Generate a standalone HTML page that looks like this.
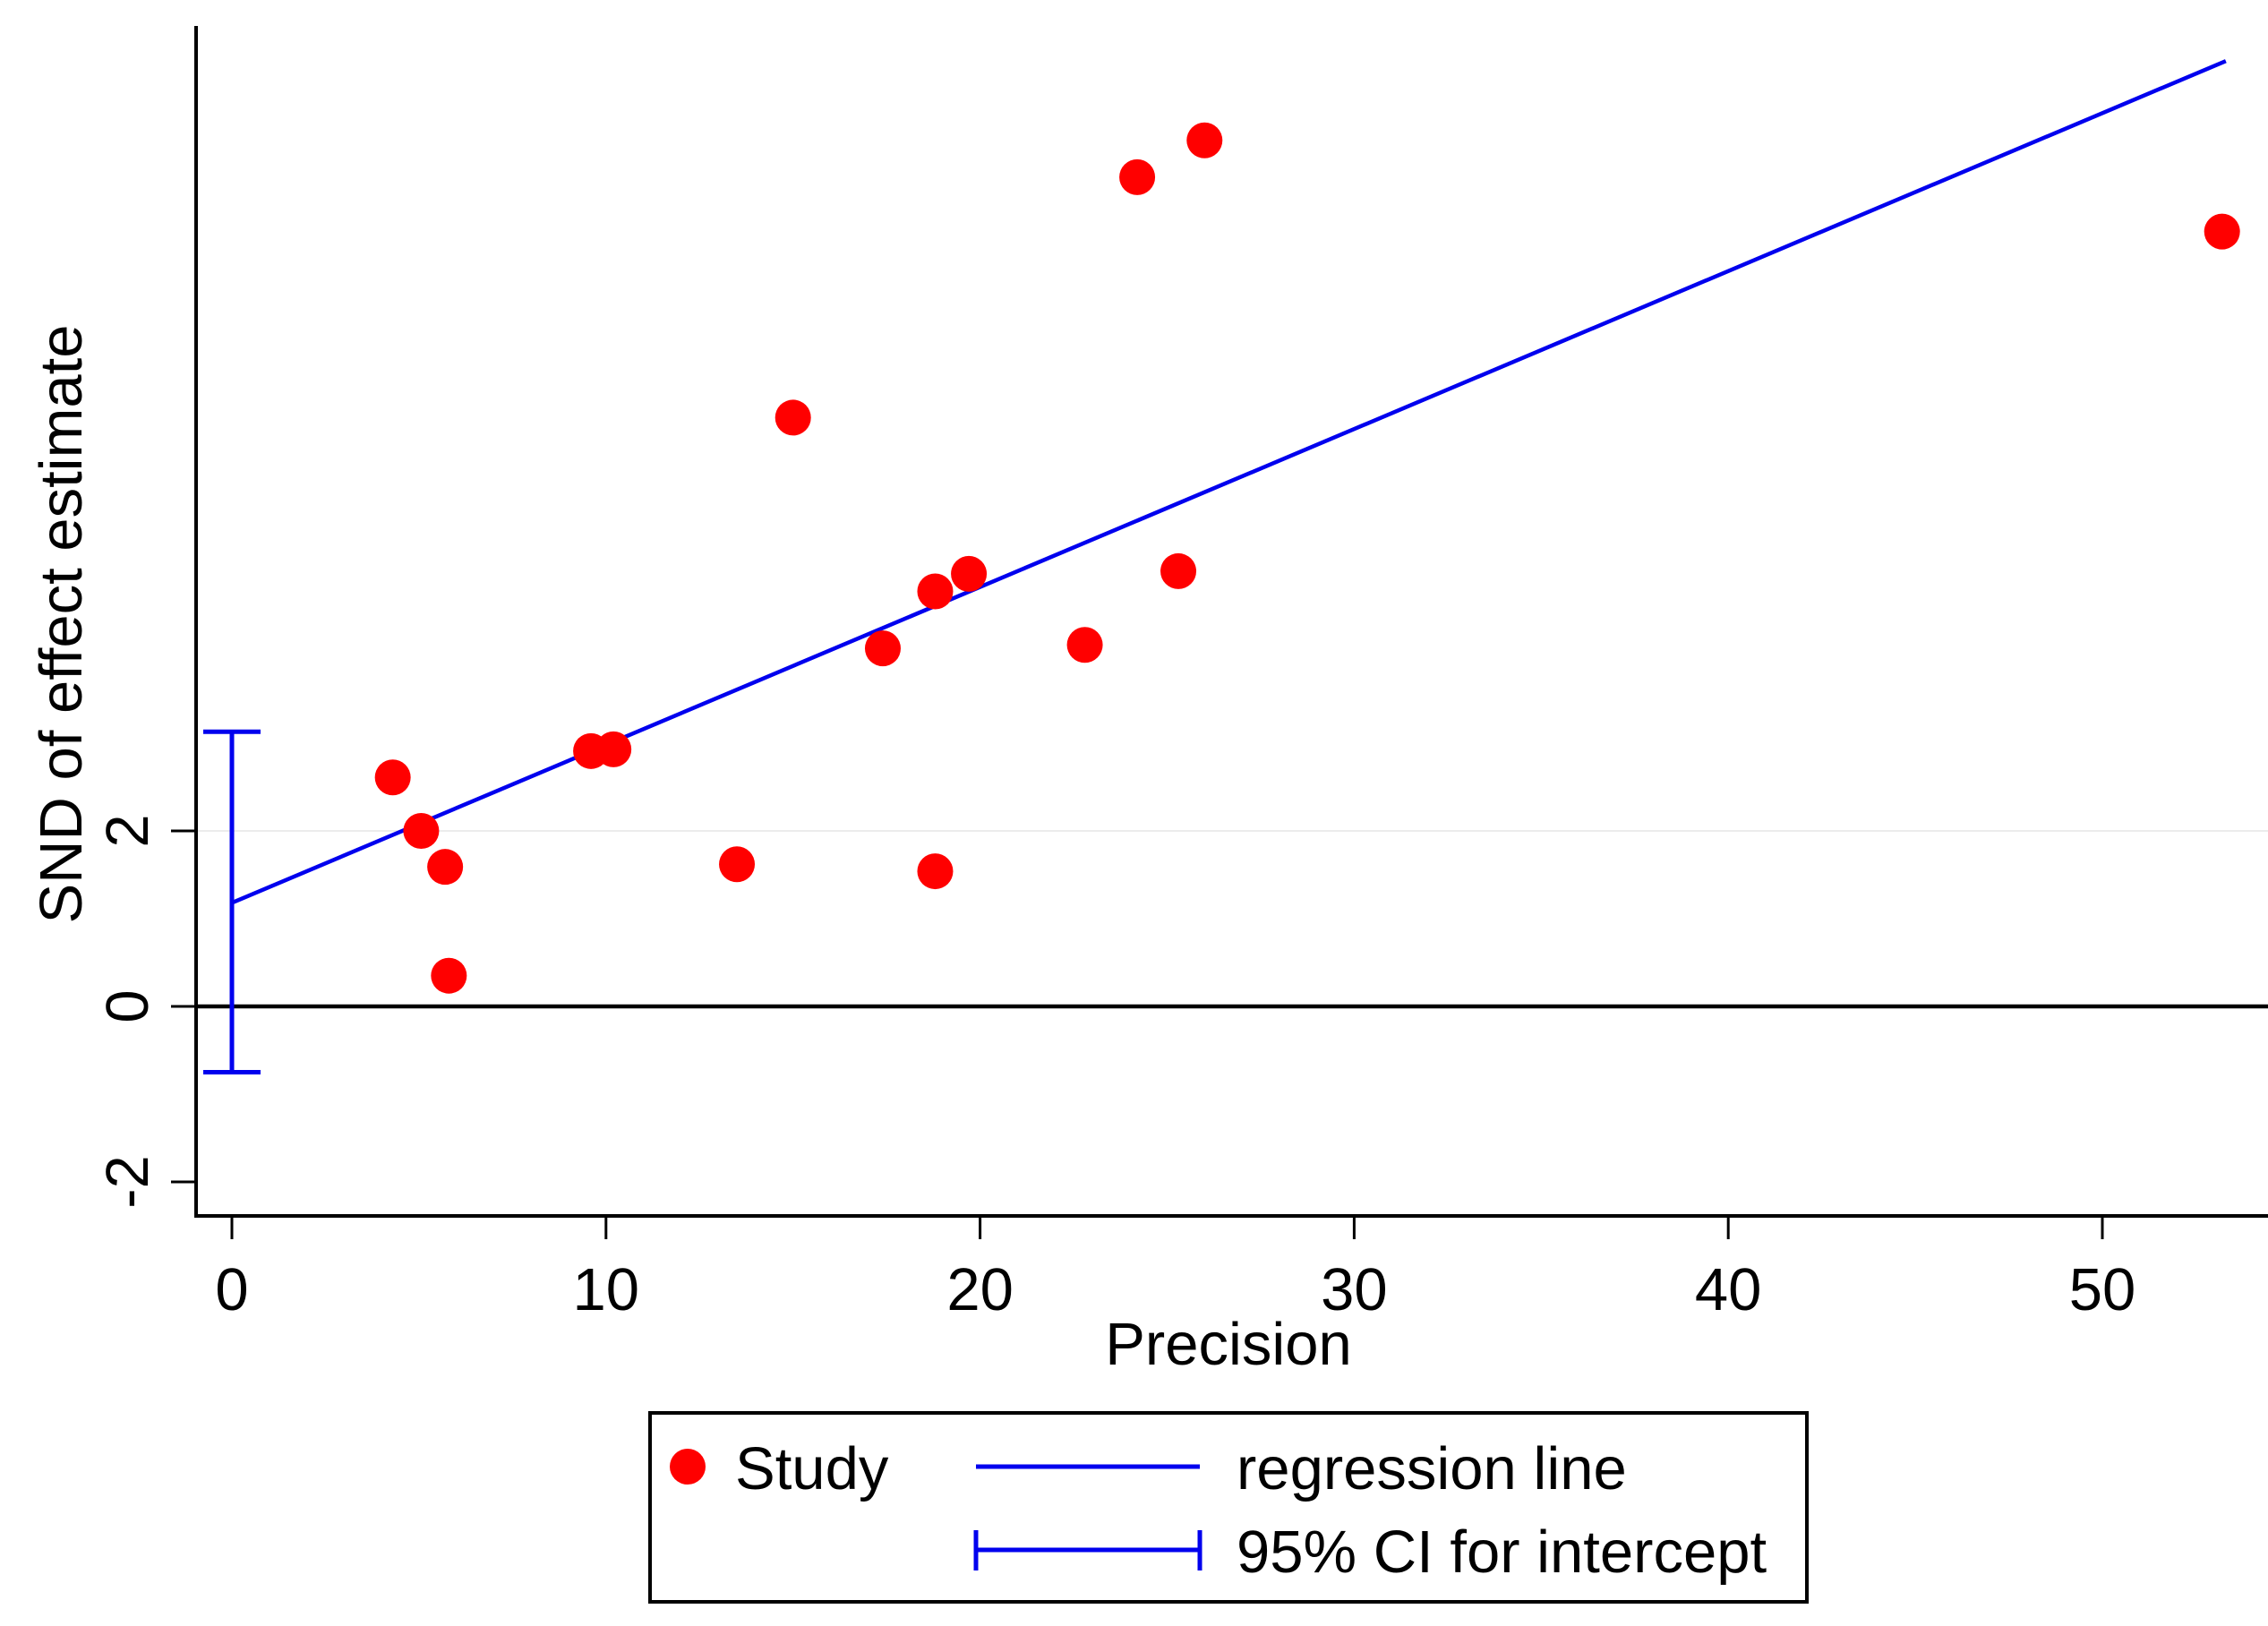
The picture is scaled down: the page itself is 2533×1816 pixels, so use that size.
<!DOCTYPE html>
<html><head><meta charset="utf-8"><style>
html,body{margin:0;padding:0;background:#fff;}
svg{display:block;font-family:"Liberation Sans",Arial,sans-serif;}
</style></head><body>
<svg id="chart" width="2533" height="1816" viewBox="0 0 2533 1816">
<rect width="2533" height="1816" fill="#fff"/>
<g id="grid"></g>
<g id="axes"></g>
<g id="marks"></g>
<g id="legend">
  <rect x="726" y="1578" width="1292" height="211" fill="#fff" stroke="#000" stroke-width="4"/>
  <circle cx="768" cy="1638" r="20" fill="#ff0000"/>
  <text x="821" y="1663" font-size="67" fill="#000">Study</text>
  <line x1="1090" y1="1638" x2="1340" y2="1638" stroke="#0000ee" stroke-width="5"/>
  <text x="1381" y="1663" font-size="67" fill="#000">regression line</text>
  <g stroke="#0000ee" stroke-width="5">
    <line x1="1090" y1="1731" x2="1340" y2="1731"/>
    <line x1="1090" y1="1709" x2="1090" y2="1754"/>
    <line x1="1340" y1="1709" x2="1340" y2="1754"/>
  </g>
  <text x="1381" y="1756" font-size="67" fill="#000">95% CI for intercept</text>
</g>
</svg>
<script>
const precision = [4.3,5.06,5.7,5.8,9.6,10.2,13.5,15.0,17.4,18.8,18.8,19.7,22.8,24.2,25.3,26.0,53.2];
const snd = [2.61,2.0,1.59,0.35,2.91,2.93,1.62,6.71,4.08,4.73,1.54,4.93,4.12,9.45,4.96,9.87,8.83];
const xTicks = [0,10,20,30,40,50];
const yTicks = [-2,0,2];
const intercept = [1.18];
const slope = [0.18];
const ciBounds = [-0.75,3.13];
const xMaxLine = [53.3];

const NS='http://www.w3.org/2000/svg';
const X0=259, XS=41.78, Y0=1124, YS=98;
const sx=v=>X0+v*XS, sy=v=>Y0-v*YS;
function mk(tag,attrs,parent,text){const e=document.createElementNS(NS,tag);for(const k in attrs)e.setAttribute(k,attrs[k]);if(text!==undefined)e.textContent=text;parent.appendChild(e);return e;}
const grid=document.getElementById('grid'),axes=document.getElementById('axes'),marks=document.getElementById('marks');

let g=mk('line',{x1:219,x2:2533,y1:sy(2),y2:sy(2),stroke:'#ececec','stroke-width':2},grid);


let z=mk('line',{x1:219,x2:2533,y1:sy(0),y2:sy(0),stroke:'#000','stroke-width':4.5},grid);



let ya=mk('line',{x1:219,x2:219,y1:29,y2:1360,stroke:'#000','stroke-width':4},axes);


let xa=mk('line',{x1:217,x2:2533,y1:1358,y2:1358,stroke:'#000','stroke-width':4},axes);


xTicks.forEach(t=>{
  let l=mk('line',{x1:sx(t),x2:sx(t),y1:1358,y2:1384,stroke:'#000','stroke-width':3},axes);
  
  
  let tx=mk('text',{x:sx(t),y:1463,'font-size':67,'text-anchor':'middle',fill:'#000'},axes,String(t));
  
  
});
yTicks.forEach(t=>{
  let l=mk('line',{x1:191,x2:219,y1:sy(t),y2:sy(t),stroke:'#000','stroke-width':3},axes);
  
  
  let tx=mk('text',{x:0,y:0,'font-size':67,'text-anchor':'middle',fill:'#000',transform:`translate(165,${sy(t)}) rotate(-90)`},axes,String(t));
  
  
});
let xt=mk('text',{x:1372,y:1524,'font-size':67,'text-anchor':'middle',fill:'#000'},axes,'Precision');


let yt=mk('text',{x:0,y:0,'font-size':67,'text-anchor':'middle',fill:'#000',transform:'translate(91,697) rotate(-90)'},axes,'SND of effect estimate');



const ciG=mk('g',{stroke:'#0000ee','stroke-width':5},marks);


mk('line',{x1:sx(0),x2:sx(0),y1:sy(ciBounds[0]),y2:sy(ciBounds[1])},ciG);
mk('line',{x1:sx(0)-32,x2:sx(0)+32,y1:sy(ciBounds[0]),y2:sy(ciBounds[0])},ciG);
mk('line',{x1:sx(0)-32,x2:sx(0)+32,y1:sy(ciBounds[1]),y2:sy(ciBounds[1])},ciG);

let rl=mk('line',{x1:sx(0),y1:sy(intercept[0]),x2:sx(xMaxLine[0]),y2:sy(intercept[0]+slope[0]*xMaxLine[0]),stroke:'#0000ee','stroke-width':4.5},marks);



precision.forEach((p,i)=>{
  let c=mk('circle',{cx:sx(p),cy:sy(snd[i]),r:20,fill:'#ff0000'},marks);
  
  
});
</script>
</body></html>
